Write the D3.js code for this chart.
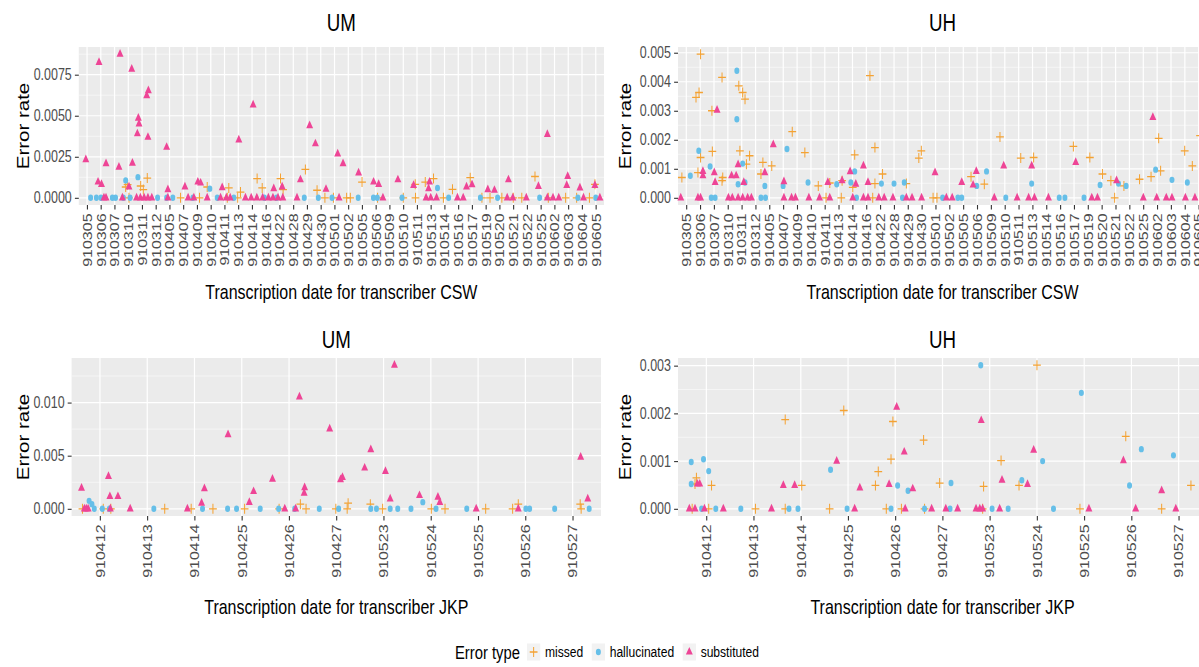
<!DOCTYPE html>
<html><head><meta charset="utf-8">
<script src="https://cdn.jsdelivr.net/npm/d3@7"></script>
<style>html,body{margin:0;padding:0;background:#fff;}svg{display:block;}</style>
</head><body>
<svg id="chart" width="1199" height="667"></svg>
<script>
// ---------------- DATA ----------------
const datesCSW = ["910305","910306","910307","910310","910311","910312","910405","910407","910409","910410","910411","910413","910414","910416","910422","910428","910429","910430","910501","910502","910505","910506","910509","910510","910511","910513","910514","910516","910517","910519","910520","910521","910522","910525","910602","910603","910604","910605"];
const datesJKP = ["910412","910413","910414","910425","910426","910427","910523","910524","910525","910526","910527"];

const yTicksUmCsw = [0, 0.0025, 0.005, 0.0075];
const yTicksUhCsw = [0, 0.001, 0.002, 0.003, 0.004, 0.005];
const yTicksUmJkp = [0, 0.005, 0.010];
const yTicksUhJkp = [0, 0.001, 0.002, 0.003];

const errorTypes = ["missed", "hallucinated", "substituted"];

// points: [jittered date index, error rate]
const umCswMissed = [[2.81,0.00066],[2.95,0.0008],[4.38,0.0012],[3.90,0.00072],[4.09,0.0005],[8.74,0.00066],[10.31,0.0006],[11.16,0.00035],[15.88,0.00173],[16.73,0.00046],[14.07,0.00117],[14.26,0.0005],[12.37,0.00117],[12.74,0.0006],[20.0,0.00096],[23.87,0.00082],[24.6,0.00096],[25.2,0.00117],[26.58,0.00052],[27.87,0.00123],[32.58,0.0013],[36.94,0.00082],
[3.05,0],[6.80,0],[8.18,0],[10.2,0],[10.96,0],[17.30,0],[17.92,0],[18.88,0],[19.15,0],[21.13,0],[23.0,0],[23.89,0],[25.92,0],[28.72,0],[29.31,0],[30.17,0],[31.0,0],[31.62,0],[33.55,0],[34.81,0],[35.61,0],[36.54,0]];
const umCswHalluc = [[2.81,0.00106],[3.70,0.00126],[8.93,0.00056],[25.49,0.0006],
[0.26,0],[0.68,0],[1.01,0],[1.84,0],[2.07,0],[2.64,0],[3.13,0],[5.13,0],[5.79,0],[6.24,0],[7.7,0],[9.47,0],[10.68,0],[12.9,0],[13.78,0],[15.8,0],[16.82,0],[17.82,0],[19.72,0],[20.83,0],[21.11,0],[22.91,0],[26.3,0],[28.61,0],[29.86,0],[32.92,0],[35.70,0],[37.0,0]];
const umCswSubst = [[-0.09,0.00233],[0.87,0.00825],[2.40,0.00875],[3.25,0.00784],[4.46,0.00653],[4.34,0.00622],[3.73,0.00485],[3.78,0.0045],[3.66,0.0039],[4.43,0.00369],[5.79,0.00308],[1.38,0.00208],[2.32,0.00187],[3.30,0.00211],[11.04,0.00353],[12.08,0.00566],[16.19,0.0044],[16.61,0.00329],
[0.80,0.00096],[1.05,0.00082],[3.05,0.00066],[5.88,0.0005],[7.12,0.00066],[8.06,0.00096],[8.26,0.0009],[9.83,0.00062],[13.58,0.00056],[14.19,0.00066],[15.52,0.0011],[17.38,0.00052],[18.23,0.00268],[18.62,0.00208],[19.75,0.00152],[20.84,0.00096],[21.21,0.00082],[22.61,0.0011],[23.75,0.00076],[24.91,0.00096],[24.84,0.00056],[27.6,0.00066],[28.0,0.0008],[29.15,0.0005],[29.63,0.00046],[30.65,0.0011],[32.83,0.0007],[33.48,0.00386],[34.96,0.0013],[34.89,0.00076],[35.85,0.0006],[36.94,0.00076],
[1.23,0],[1.38,0],[2.57,0],[3.60,0],[3.88,0],[4.15,0],[4.43,0],[4.71,0],[5.88,0],[7.35,0],[7.77,0],[8.74,0],[9.71,0],[10.13,0],[10.41,0],[11.52,0],[11.94,0],[12.35,0],[12.77,0],[13.19,0],[13.52,0],[13.89,0],[14.24,0],[15.27,0],[18.33,0],[21.52,0],[24.66,0],[25.00,0],[25.42,0],[26.94,0],[27.36,0],[30.56,0],[30.97,0],[31.95,0],[33.48,0],[33.89,0],[34.31,0],[36.11,0],[37.3,0]];

const uhCswMissed = [[-0.32,0.0007],[1.03,0.00495],[0.70,0.00346],[0.92,0.00363],[1.03,0.00139],[0.84,0.00087],[1.88,0.0016],[1.85,0.003],[2.58,0.00415],[2.63,0.0007],[2.58,0.00059],[3.79,0.00386],[4.07,0.00363],[4.24,0.0034],[3.87,0.00162],[4.57,0.00145],[4.34,0.00116],[5.53,0.00122],[6.17,0.0011],[5.39,0.00082],[7.65,0.00228],[8.56,0.00156],[9.53,0.00041],[10.36,0.00051],[11.25,0.00059],[12.16,0.00148],[12.02,0.00036],[13.62,0.00173],[14.17,0.00082],[13.26,0.00421],[13.62,0.00049],[15.89,0.00049],[16.97,0.00162],[16.79,0.00137],[22.65,0.0021],[20.56,0.00073],[21.52,0.00047],[24.15,0.00137],[25.08,0.00139],[27.95,0.00177],[29.14,0.00139],[30.05,0.00082],[30.66,0.00059],[31.6,0.00041],[32.73,0.00064],[33.56,0.00073],[34.11,0.00205],[34.25,0.00093],[35.99,0.00162],[36.54,0.0011],[37.1,0.00214],
[10.09,0],[11.19,0],[13.46,0],[17.82,0],[18.1,0],[30.93,0]];
const uhCswHalluc = [[0.29,0.00076],[0.90,0.00162],[1.72,0.00108],[3.65,0.00438],[3.65,0.00271],[4.07,0.00118],[3.74,0.00047],[4.24,0.00053],[5.67,0.00041],[7.27,0.00168],[6.99,0.00041],[8.79,0.00053],[10.86,0.00047],[11.88,0.00053],[12.16,0.00091],[14.09,0.00049],[15.0,0.00049],[15.74,0.00053],[21.68,0.00091],[20.97,0.00041],[24.94,0.00049],[29.88,0.00044],[31.21,0.00049],[31.76,0.00041],[33.89,0.00097],[35.07,0.00062],[36.18,0.00053],
[1.80,0],[2.08,0],[5.39,0],[5.72,0],[12.29,0],[15.61,0],[18.51,0],[19.61,0],[19.89,0],[23.07,0],[26.93,0],[27.34,0],[28.72,0]];
const uhCswSubst = [[2.22,0.00302],[1.2,0.00091],[1.2,0.00076],[2.02,0.00087],[2.08,0.00053],[3.27,0.00076],[3.6,0.00076],[3.74,0.00114],[4.15,0.00053],[5.67,0.00087],[6.28,0.00183],[7.05,0.00056],[10.22,0.00053],[11.25,0.00059],[11.83,0.0009],[12.24,0.00047],[12.79,0.0011],[13.12,0.00053],[17.96,0.00087],[19.89,0.00053],[20.71,0.00044],[20.94,0.00091],[22.92,0.0011],[24.94,0.0011],[28.12,0.00122],[31.07,0.00059],[33.69,0.00277],
[-0.40,0],[0.84,0],[1.03,0],[3.04,0],[3.32,0],[3.74,0],[4.07,0],[4.43,0],[4.70,0],[7.05,0],[7.60,0],[7.88,0],[8.85,0],[9.62,0],[10.36,0],[12.02,0],[12.79,0],[13.12,0],[13.90,0],[14.29,0],[14.92,0],[15.89,0],[16.30,0],[16.99,0],[18.78,0],[19.20,0],[22.24,0],[23.89,0],[24.72,0],[25.14,0],[26.15,0],[29.28,0],[29.69,0],[33.00,0],[33.97,0],[34.66,0],[35.07,0],[36.04,0],[36.73,0]];

const umJkpMissed = [[-0.37,0],[0.07,0],[0.23,0],[1.37,0],[1.93,0],[2.39,0],[3.06,0],[3.79,0],[4.24,0.00044],[4.36,0],[4.99,0],[5.23,0],[5.25,0.00053],[5.72,0.00044],[5.98,0],[7.01,0],[7.30,0],[8.16,0],[8.73,0],[8.85,0.00044],[10.16,0.00044],[10.18,0]];
const umJkpHalluc = [[-0.23,0.00075],[-0.17,0.00044],[-0.12,0],[0.05,0],[0.2,0],[1.14,0],[2.17,0],[2.70,0],[2.89,0],[3.39,0],[3.78,0],[4.12,0],[4.64,0],[5.05,0],[5.73,0],[5.85,0],[6.14,0],[6.30,0],[6.58,0],[6.83,0.00063],[7.11,0],[7.76,0],[9.01,0],[9.09,0],[9.62,0],[10.35,0]];
const umJkpSubst = [[-0.39,0.00195],[0.18,0.00305],[0.21,0.00116],[0.38,0.00116],[0.64,0],[-0.33,0],[-0.29,0],[-0.25,0],[0.22,0],[1.85,0],[2.15,0.00053],[2.21,0.00189],[2.71,0.00698],[3.16,0.0006],[3.25,0.00163],[3.65,0.0028],[3.91,0],[4.14,0],[4.22,0.01053],[4.33,0.002],[4.32,0.00148],[4.86,0.00752],[5.09,0.00274],[5.13,0.00295],[5.6,0.00384],[5.73,0.00557],[6.04,0.00352],[6.14,0.00094],[6.23,0.01352],[6.76,0.00125],[7.15,0.0011],[7.19,0.0006],[7.96,0],[8.85,0],[10.17,0.00487],[10.32,0.00094]];

const uhJkpMissed = [[-0.30,0],[-0.24,0.00052],[-0.21,0.00065],[0.05,0],[0.11,0.00049],[1.04,0],[1.67,0.00187],[1.67,0],[2.02,0.00049],[2.61,0],[2.91,0.00206],[3.58,0.00049],[3.64,0.00078],[3.81,0],[3.91,0.00104],[3.95,0.00183],[4.13,0],[4.60,0.00144],[4.62,0],[4.94,0.00054],[5.87,0.00047],[5.85,0],[6.24,0.00101],[6.62,0.00049],[7.0,0.00301],[7.91,0],[8.88,0.00152],[9.64,0],[10.26,0.00049]];
const uhJkpHalluc = [[-0.32,0.00098],[-0.32,0.00052],[-0.06,0.00104],[0.05,0.00079],[-0.10,0],[0.20,0],[0.73,0],[1.75,0],[1.94,0],[2.63,0.00082],[2.98,0],[3.91,0],[4.05,0.00049],[4.27,0.00038],[4.62,0],[5.16,0],[5.18,0.00054],[5.81,0.00301],[6.05,0],[6.39,0],[6.68,0.0006],[7.12,0.001],[7.35,0],[7.94,0.00243],[8.96,0.00049],[9.21,0.00125],[9.89,0.00112]];
const uhJkpSubst = [[-0.36,0],[-0.24,0],[-0.04,0],[-0.19,0.00052],[-0.14,0.00052],[0.36,0],[1.38,0],[1.63,0.00049],[1.87,0.00049],[2.76,0.001],[3.14,0],[3.25,0.00044],[3.87,0.00051],[4.03,0.00213],[4.19,0.00119],[4.21,0],[4.37,0.00042],[4.77,0],[5.07,0],[5.32,0],[5.71,0],[5.79,0],[5.85,0],[5.82,0.00185],[6.21,0],[6.26,0.0006],[6.80,0.00051],[6.93,0.00123],[8.10,0],[8.83,0.00101],[9.09,0],[9.64,0.00038],[9.94,0]];

// ---------------- STYLE / LAYOUT ----------------
const SX = 0.78;                 // horizontal compression of the original picture
const X = v => v / SX;
const FONT = "'Liberation Sans', Arial, Helvetica, sans-serif";
const COLORS = {missed: "#F4A233", hallucinated: "#66BFE8", substituted: "#EE4596"};
const TICK_FS = 16, AXT_FS = 20.5, TITLE_FS = 24, LEG_T_FS = 19, LEG_FS = 15.5;

const panels = [
  {title: "UM", cats: datesCSW, xTitle: "Transcription date for transcriber CSW", ticks: yTicksUmCsw, fmt: ".4f",
   left: 78.8, right: 604, top: 47, bottom: 205, titleY: 31, xTitleY: 299, yTitleX: 29,
   series: {missed: umCswMissed, hallucinated: umCswHalluc, substituted: umCswSubst}},
  {title: "UH", cats: datesCSW, xTitle: "Transcription date for transcriber CSW", ticks: yTicksUhCsw, fmt: ".3f",
   left: 678, right: 1207, top: 47, bottom: 205, titleY: 31, xTitleY: 299, yTitleX: 631,
   series: {missed: uhCswMissed, hallucinated: uhCswHalluc, substituted: uhCswSubst}},
  {title: "UM", cats: datesJKP, xTitle: "Transcription date for transcriber JKP", ticks: yTicksUmJkp, fmt: ".3f",
   left: 71.6, right: 601, top: 358, bottom: 516, titleY: 348, xTitleY: 614, yTitleX: 29,
   series: {missed: umJkpMissed, hallucinated: umJkpHalluc, substituted: umJkpSubst}},
  {title: "UH", cats: datesJKP, xTitle: "Transcription date for transcriber JKP", ticks: yTicksUhJkp, fmt: ".3f",
   left: 678, right: 1207, top: 358, bottom: 516, titleY: 348, xTitleY: 614, yTitleX: 631,
   series: {missed: uhJkpMissed, hallucinated: uhJkpHalluc, substituted: uhJkpSubst}}
];

const svg = d3.select("#chart");
const root = svg.append("g").attr("transform", `scale(${SX},1)`).style("font-family", FONT);

function drawMark(sel, type) {
  if (type === "missed") {
    sel.append("path").attr("d", "M-5,0H5M0,-5V5")
      .attr("stroke", COLORS.missed).attr("stroke-width", 1.3).attr("fill", "none");
  } else if (type === "hallucinated") {
    sel.append("circle").attr("r", 3.2).attr("fill", COLORS.hallucinated);
  } else {
    sel.append("path").attr("d", d3.symbol(d3.symbolTriangle, 34)()).attr("fill", COLORS.substituted);
  }
}

panels.forEach(p => {
  const g = root.append("g");
  const vals = errorTypes.flatMap(t => p.series[t].map(d => d[1]));
  const vMin = d3.min(vals), vMax = d3.max(vals), span = vMax - vMin;
  const y = d3.scaleLinear().domain([vMin - 0.05 * span, vMax + 0.05 * span]).range([p.bottom, p.top]);
  const n = p.cats.length;
  const x = d3.scaleLinear().domain([-0.6, n - 1 + 0.6]).range([X(p.left), X(p.right)]);
  const [d0, d1] = y.domain();

  g.append("rect").attr("x", X(p.left)).attr("y", p.top)
    .attr("width", X(p.right) - X(p.left)).attr("height", p.bottom - p.top).attr("fill", "#EBEBEB");

  // minor y grid
  const step = p.ticks[1] - p.ticks[0];
  const minors = d3.range(-1, p.ticks.length + 1).map(k => p.ticks[0] + (k + 0.5) * step).filter(v => v > d0 && v < d1);
  g.selectAll(".ymin").data(minors).join("line")
    .attr("x1", X(p.left)).attr("x2", X(p.right)).attr("y1", d => y(d)).attr("y2", d => y(d))
    .attr("stroke", "#fff").attr("stroke-width", 0.6);
  // major y grid
  g.selectAll(".ymaj").data(p.ticks).join("line")
    .attr("x1", X(p.left)).attr("x2", X(p.right)).attr("y1", d => y(d)).attr("y2", d => y(d))
    .attr("stroke", "#fff").attr("stroke-width", 1.2);
  // major x grid
  g.selectAll(".xmaj").data(d3.range(n)).join("line")
    .attr("x1", d => x(d)).attr("x2", d => x(d)).attr("y1", p.top).attr("y2", p.bottom)
    .attr("stroke", "#fff").attr("stroke-width", 1.2 / SX);

  // axes
  const ya = g.append("g").attr("transform", `translate(${X(p.left)},0)`)
    .call(d3.axisLeft(y).tickValues(p.ticks).tickFormat(d3.format(p.fmt)).tickSize(5).tickPadding(4));
  ya.select(".domain").remove();
  ya.selectAll("line").attr("stroke", "#333").attr("stroke-width", 1.1);
  ya.selectAll("text").attr("fill", "#4D4D4D").style("font-size", TICK_FS + "px").style("font-family", FONT);

  const xa = g.append("g").attr("transform", `translate(0,${p.bottom})`)
    .call(d3.axisBottom(x).tickValues(d3.range(n)).tickFormat(i => p.cats[i]).tickSize(4.5));
  xa.select(".domain").remove();
  xa.selectAll("line").attr("stroke", "#333").attr("stroke-width", 1.1 / SX);
  xa.selectAll("text").attr("fill", "#4D4D4D").style("font-size", TICK_FS + "px").style("font-family", FONT)
    .attr("transform", "rotate(-90)").attr("text-anchor", "end")
    .attr("x", -8.5).attr("y", 0).attr("dy", "0.35em");

  // points
  errorTypes.forEach(t => {
    g.append("g").selectAll("g").data(p.series[t]).join("g")
      .attr("transform", d => `translate(${x(d[0])},${y(d[1])})`)
      .each(function () { drawMark(d3.select(this), t); });
  });

  // titles
  const cx = X((p.left + p.right) / 2);
  g.append("text").attr("x", cx).attr("y", p.titleY).attr("text-anchor", "middle")
    .style("font-size", TITLE_FS + "px").attr("fill", "#000").text(p.title);
  g.append("text").attr("x", cx).attr("y", p.xTitleY).attr("text-anchor", "middle")
    .style("font-size", AXT_FS + "px").attr("fill", "#000").text(p.xTitle);
  g.append("text").attr("transform", `translate(${X(p.yTitleX)},${(p.top + p.bottom) / 2}) rotate(-90)`)
    .attr("text-anchor", "middle").style("font-size", AXT_FS + "px").attr("fill", "#000").text("Error rate");
});

// ---------------- LEGEND ----------------
const legendLabels = ["missed", "hallucinated", "substituted"];
const leg = root.append("g");
const LY = 652, KEY = 17;
const ttl = leg.append("text").attr("y", LY).attr("dy", "0.35em").style("font-size", LEG_T_FS + "px").attr("fill", "#000").text("Error type");
let cursor = ttl.node().getComputedTextLength() + 9;
legendLabels.forEach((lab, i) => {
  const it = leg.append("g").attr("transform", `translate(${cursor},0)`);
  it.append("rect").attr("x", 0).attr("y", LY - KEY / 2).attr("width", KEY).attr("height", KEY).attr("fill", "#F2F2F2");
  const m = it.append("g").attr("transform", `translate(${KEY / 2},${LY})`);
  drawMark(m, errorTypes[i]);
  const tx = it.append("text").attr("x", KEY + 6).attr("y", LY).attr("dy", "0.35em")
    .style("font-size", LEG_FS + "px").attr("fill", "#000").text(lab);
  cursor += KEY + 6 + tx.node().getComputedTextLength() + 11;
});
const totalW = cursor - 11;
leg.attr("transform", `translate(${X(607) - totalW / 2},0)`);
</script>
</body></html>
